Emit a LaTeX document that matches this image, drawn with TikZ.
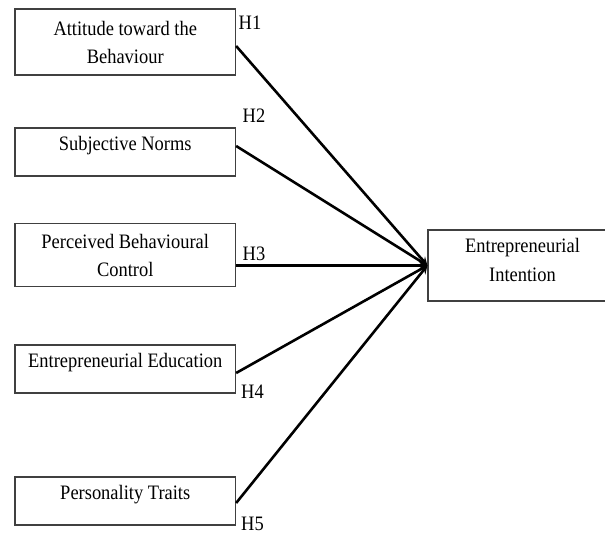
\documentclass[tikz,border=0pt]{standalone}
\usepackage{fontspec}
\setmainfont[FakeStretch=0.9]{Liberation Serif}
\usepackage{tikz}
\usetikzlibrary{arrows, positioning, calc}
\tikzstyle{arrow} = [line width=2.6pt,->,>=stealth]
\tikzstyle{factor} = [draw=black!75, line width=1.3pt, inner sep=0pt, minimum width=220.5bp, align=center, font=\fontsize{20.5bp}{28bp}\selectfont]
\tikzstyle{oneline} = [factor, minimum height=48bp, text height=14bp, text depth=17.5bp]
\tikzstyle{hyp} = [inner sep=0pt, font=\fontsize{20.5bp}{28bp}\selectfont]

\begin{document}
\begin{tikzpicture}[x=1bp, y=-1bp]
        \clip (0,0) rectangle (605,535);

        % Independent variables
        \node[factor, minimum height=66bp] (att) at (125.25,42) {Attitude toward the\\Behaviour};
        \node[oneline] (sn) at (125.25,152) {Subjective Norms};
        \node[factor, minimum height=63bp] (pbc) at (125.25,255) {Perceived Behavioural\\Control};
        \node[oneline] (edu) at (125.25,369) {Entrepreneurial Education};
        \node[oneline] (pt) at (125.25,501) {Personality Traits};

        % Dependent variable
        \node[factor, minimum width=189bp, minimum height=71bp, text depth=12bp, font=\fontsize{20.5bp}{29bp}\selectfont] (ei) at (522.5,265.5) {Entrepreneurial\\Intention};

        % Paths
        \draw[arrow] ([yshift=-4bp]att.east) -- (ei.west);
        \draw[arrow] ([yshift=6bp]sn.east) -- (ei.west);
        \draw[arrow] (pbc.east |- ei.west) -- (ei.west);
        \draw[arrow] ([yshift=-4bp]edu.east) -- (ei.west);
        \draw[arrow] ([yshift=-2bp]pt.east) -- (ei.west);

        % Hypotheses
        \foreach \h/\x/\y in {1/250/22.5, 2/254/116, 3/254/253.5, 4/252.5/391.5, 5/252.5/524}
          \node[hyp] (h\h) at (\x,\y) {H\h};
      \end{tikzpicture}
\end{document}
